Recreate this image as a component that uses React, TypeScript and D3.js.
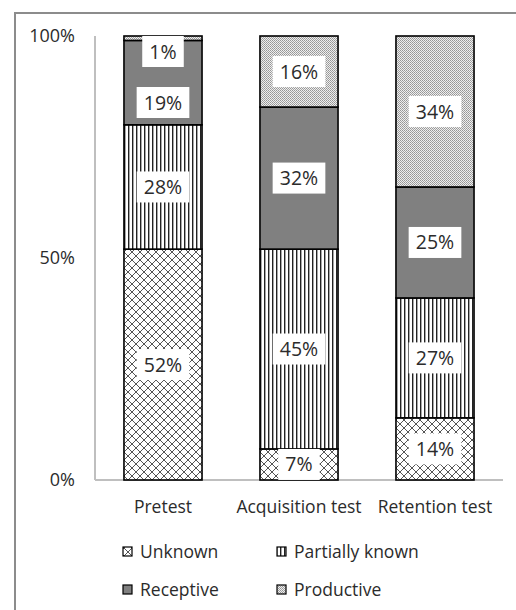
import React from "react";
import * as d3 from "d3";

const categories = ["Pretest", "Acquisition test", "Retention test"];
const seriesNames = ["Unknown", "Partially known", "Receptive", "Productive"];
const unknown = [52, 7, 14];
const partiallyKnown = [28, 45, 27];
const receptive = [19, 32, 25];
const productive = [1, 16, 34];
const yTicks = [0, 0.5, 1];

const W = 516;
const H = 610;
const plot = { left: 95, right: 503, top: 36, bottom: 480 };
const FONT = "'Open Sans', 'Noto Sans', sans-serif";
const TEXT = "#2b2b2b";

const fills = ["url(#pUnknown)", "url(#pPartial)", "#808080", "url(#pProductive)"];

function textWidth(s: string, size: number) {
  let w = 0;
  for (const c of s) {
    if (c === "%") w += 0.84;
    else if (/[0-9]/.test(c)) w += 0.572;
    else w += 0.6;
  }
  return w * size;
}

export default function App() {
  const x = d3
    .scaleBand<string>()
    .domain(categories)
    .range([plot.left, plot.right])
    .paddingInner(0.426)
    .paddingOuter(0.213);
  const y = d3.scaleLinear().domain([0, 1]).range([plot.bottom, plot.top]);

  const rows = categories.map((c, i) => {
    const r: any = { cat: c };
    r[seriesNames[0]] = unknown[i] / 100;
    r[seriesNames[1]] = partiallyKnown[i] / 100;
    r[seriesNames[2]] = receptive[i] / 100;
    r[seriesNames[3]] = productive[i] / 100;
    return r;
  });
  const stack = d3.stack<any>().keys(seriesNames)(rows);

  const labelSize = 19.5;
  const boxH = 31;
  const labels: any[] = [];
  categories.forEach((c, ci) => {
    const items: any[] = [];
    for (let si = seriesNames.length - 1; si >= 0; si--) {
      const seg = stack[si][ci];
      const val = seg[1] - seg[0];
      const cy = (y(seg[0]) + y(seg[1])) / 2;
      let top = cy - boxH / 2;
      top = Math.max(plot.top, Math.min(plot.bottom - boxH, top));
      items.push({ ci, si, text: Math.round(val * 100) + "%", top });
    }
    for (let k = 1; k < items.length; k++) {
      const prev = items[k - 1];
      if (items[k].top < prev.top + boxH + 6) items[k].top = prev.top + boxH + 20;
    }
    labels.push(...items);
  });

  const bw = x.bandwidth();

  const legendItems = [
    { name: seriesNames[0], fill: fills[0], x: 123, y: 547 },
    { name: seriesNames[1], fill: fills[1], x: 277, y: 547 },
    { name: seriesNames[2], fill: fills[2], x: 123, y: 585 },
    { name: seriesNames[3], fill: fills[3], x: 277, y: 585 },
  ];

  return (
    <svg
      width={W}
      height={H}
      style={{ position: "absolute", left: 0, top: 0, background: "#fff" }}
      fontFamily={FONT}
    >
      <defs>
        <pattern id="pUnknown" width={8} height={8} patternUnits="userSpaceOnUse">
          <rect width={8} height={8} fill="#fff" />
          <path d="M0,0L8,8M8,0L0,8M-1,7L1,9M7,-1L9,1M-1,1L1,-1M7,9L9,7" stroke="#555" strokeWidth={1} />
        </pattern>
        <pattern id="pPartial" width={4} height={4} patternUnits="userSpaceOnUse">
          <rect width={4} height={4} fill="#fff" />
          <rect x={0} width={1.4} height={4} fill="#222" />
        </pattern>
        <pattern id="pProductive" width={2} height={2} patternUnits="userSpaceOnUse">
          <rect width={2} height={2} fill="#eeeeee" />
          <rect width={1} height={1} fill="#959595" />
          <rect x={1} y={1} width={1} height={1} fill="#a5a5a5" />
        </pattern>
      </defs>

      <rect x={15} y={13} width={W} height={H} fill="none" stroke="#8c8c8c" strokeWidth={2} />

      <line x1={plot.left} x2={plot.left} y1={plot.top} y2={plot.bottom} stroke="#bfbfbf" strokeWidth={2} />
      <line x1={plot.left} x2={plot.right} y1={plot.bottom} y2={plot.bottom} stroke="#bfbfbf" strokeWidth={2} />

      {yTicks.map((t) => (
        <text key={t} x={75} y={y(t)} dy="0.36em" textAnchor="end" fontSize={18} fill={TEXT}>
          {Math.round(t * 100) + "%"}
        </text>
      ))}

      {categories.map((c) => (
        <text key={c} x={(x(c) as number) + bw / 2} y={513} textAnchor="middle" fontSize={17.5} fill={TEXT}>
          {c}
        </text>
      ))}

      {stack.map((s, si) =>
        s.map((seg, ci) => (
          <rect
            key={si + "-" + ci}
            x={x(categories[ci]) as number}
            y={y(seg[1])}
            width={bw}
            height={y(seg[0]) - y(seg[1])}
            fill={fills[si]}
            stroke="#000"
            strokeWidth={1.6}
          />
        ))
      )}

      {labels.map((l, i) => {
        const cx = (x(categories[l.ci]) as number) + bw / 2;
        const w = textWidth(l.text, labelSize) + 14;
        return (
          <g key={i}>
            <rect x={cx - w / 2} y={l.top} width={w} height={boxH} fill="#fff" />
            <text x={cx} y={l.top + boxH / 2} dy="0.36em" textAnchor="middle" fontSize={labelSize} fill={TEXT}>
              {l.text}
            </text>
          </g>
        );
      })}

      {legendItems.map((it) => (
        <g key={it.name}>
          <rect x={it.x} y={it.y} width={9} height={9} fill={it.fill} stroke="#000" strokeWidth={1.2} />
          <text x={it.x + 17} y={it.y + 4.5} dy="0.36em" fontSize={17.5} fill={TEXT}>
            {it.name}
          </text>
        </g>
      ))}
    </svg>
  );
}
